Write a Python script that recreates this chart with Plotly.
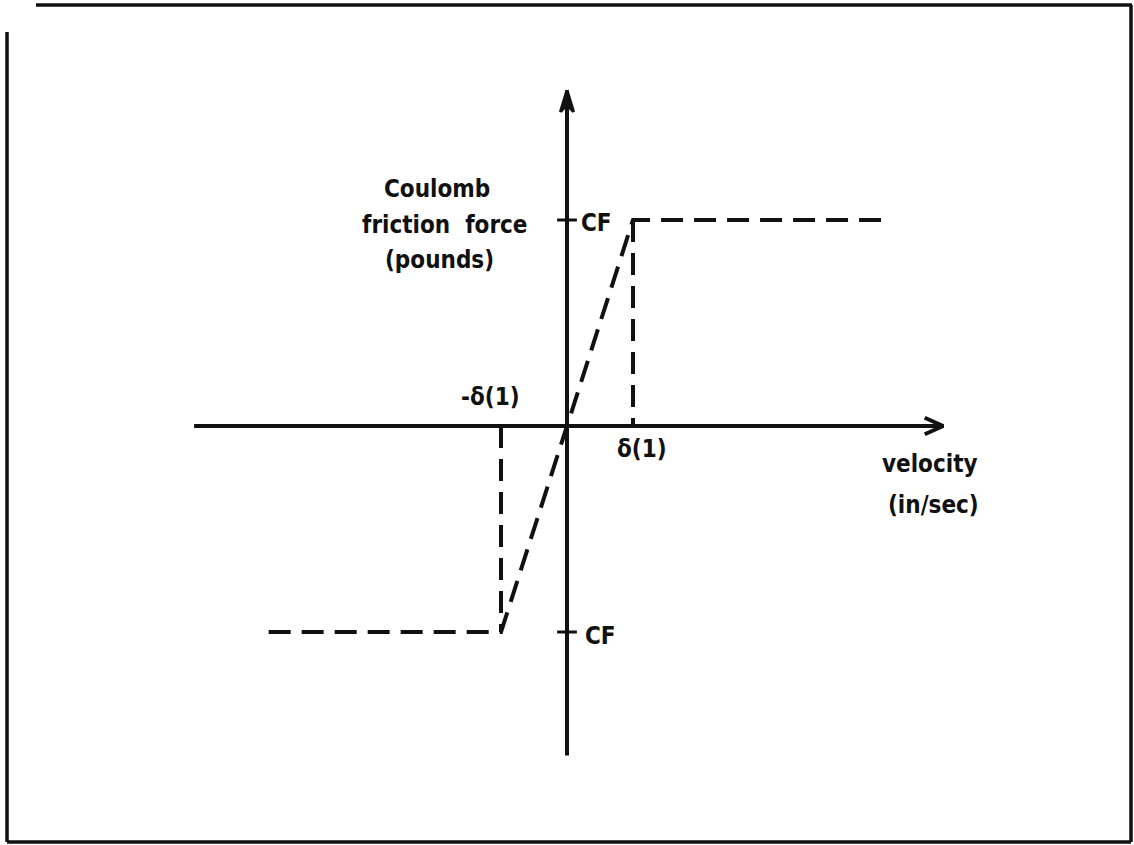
import plotly.graph_objects as go

W, H = 1134, 845
# Data (units: delta(1)=1 on velocity, CF=1 on force)
curve_v = [-4.52, -1.0, 1.0, 4.77]
curve_f = [-1.0, -1.0, 1.0, 1.0]
drop_pos_v = [1.0, 1.0]
drop_pos_f = [1.0, 0.0]
drop_neg_v = [-1.0, -1.0]
drop_neg_f = [0.0, -1.0]
x_axis_span = [-5.65, 5.70]
y_axis_span = [-1.60, 1.63]
cf_ticks = [1.0, -1.0]

# pixel scale of the diagram
X0, Y0 = 567, 426
SX, SY = 66, 206
xr = [-X0 / SX, (W - X0) / SX]
yr = [(Y0 - H) / SY, Y0 / SY]

ink = "#111111"
fig = go.Figure()

dash = "22px,11px"
fig.add_trace(go.Scatter(x=curve_v, y=curve_f, mode="lines",
                         line=dict(color=ink, width=4, dash=dash)))
fig.add_trace(go.Scatter(x=drop_pos_v, y=drop_pos_f, mode="lines",
                         line=dict(color=ink, width=4, dash=dash)))
fig.add_trace(go.Scatter(x=drop_neg_v, y=drop_neg_f, mode="lines",
                         line=dict(color=ink, width=4, dash=dash)))

# axes
fig.add_trace(go.Scatter(x=x_axis_span, y=[0, 0], mode="lines",
                         line=dict(color=ink, width=4)))
fig.add_trace(go.Scatter(x=[0, 0], y=y_axis_span, mode="lines",
                         line=dict(color=ink, width=4)))
# arrowheads
xt = x_axis_span[1]
fig.add_trace(go.Scatter(x=[xt - 0.28, xt, xt - 0.28], y=[0.04, 0, -0.04], mode="lines",
                         line=dict(color=ink, width=4)))
yt = y_axis_span[1]
fig.add_trace(go.Scatter(x=[0, -0.1, 0, 0.1, 0], y=[yt, yt - 0.105, yt - 0.07, yt - 0.105, yt],
                         mode="lines", fill="toself", fillcolor=ink,
                         line=dict(color=ink, width=3)))
# CF ticks
for c in cf_ticks:
    fig.add_trace(go.Scatter(x=[-0.15, 0.15], y=[c, c], mode="lines",
                             line=dict(color=ink, width=3)))

def px(x):
    return x / W

def py(y):
    return 1 - y / H

font = dict(family="DejaVu Sans Condensed, Liberation Sans Narrow, sans-serif",
            size=24, color=ink, weight="bold")

texts = [
    ("Coulomb", 437, 189, "center"),
    ("friction  force", 445, 225, "center"),
    ("(pounds)", 439, 260, "center"),
    ("CF", 579, 223, "left"),
    ("CF", 583, 636, "left"),
    ("-δ(1)", 490, 397, "center"),
    ("δ(1)", 642, 449, "center"),
    ("velocity", 930, 464, "center"),
    ("(in/sec)", 933, 505, "center"),
]
for t, x, y, a in texts:
    fig.add_annotation(x=px(x), y=py(y), xref="paper", yref="paper", text=t,
                       showarrow=False, xanchor=a, yanchor="middle", font=font)

# border
bw = 3.5
fig.add_shape(type="line", xref="paper", yref="paper", x0=px(36), x1=px(1132), y0=py(5), y1=py(5),
              line=dict(color=ink, width=bw))
fig.add_shape(type="line", xref="paper", yref="paper", x0=px(7), x1=px(7), y0=py(32), y1=py(842),
              line=dict(color=ink, width=bw))
fig.add_shape(type="line", xref="paper", yref="paper", x0=px(7), x1=px(1131), y0=py(842), y1=py(842),
              line=dict(color=ink, width=bw))
fig.add_shape(type="line", xref="paper", yref="paper", x0=px(1131), x1=px(1131), y0=py(5), y1=py(842),
              line=dict(color=ink, width=bw))

fig.update_layout(
    width=W, height=H, margin=dict(l=0, r=0, t=0, b=0),
    paper_bgcolor="white", plot_bgcolor="white", showlegend=False,
    xaxis=dict(range=xr, visible=False, fixedrange=True),
    yaxis=dict(range=yr, visible=False, fixedrange=True),
)
fig.write_html("out.html", config={"displayModeBar": False},
               post_script="document.body.style.margin='0';document.body.style.overflow='hidden';")
